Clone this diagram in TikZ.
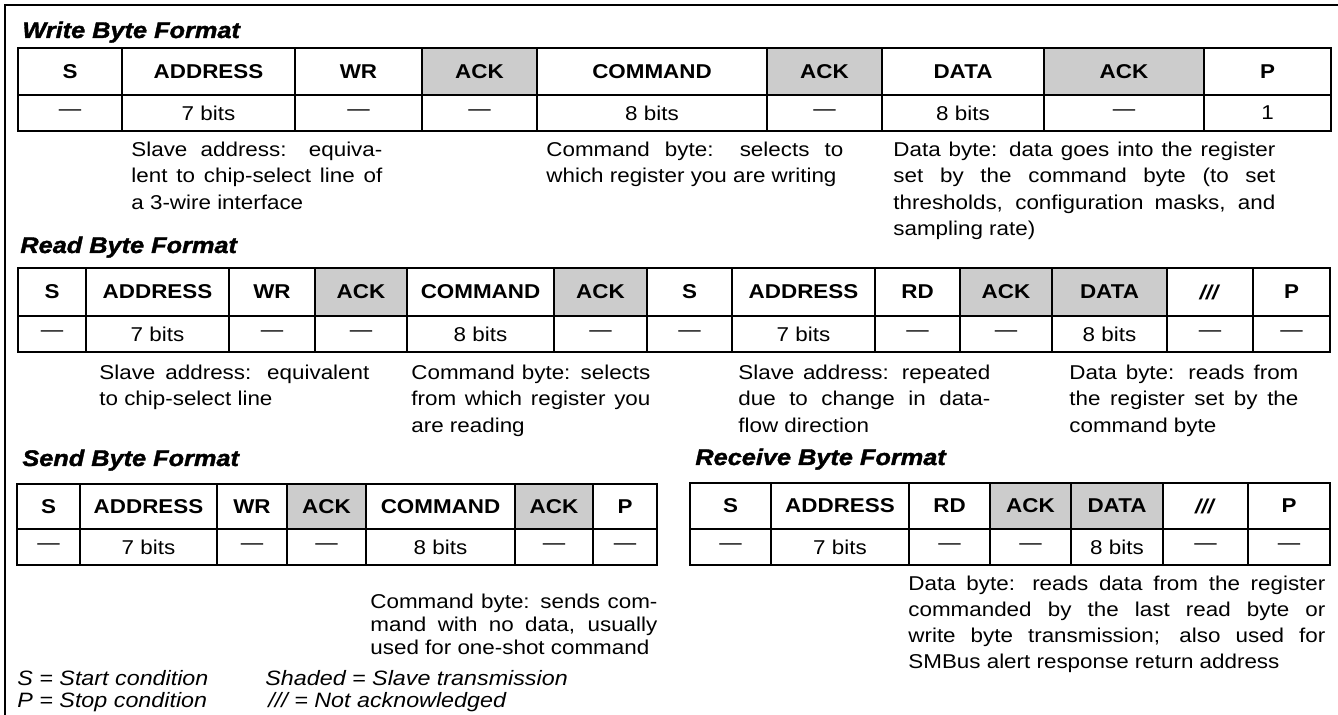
\documentclass[tikz,border=0pt]{standalone}
\usepackage{fontspec}
\setmainfont[FakeStretch=1.12]{Liberation Sans}
\newfontfamily\titlefont[FakeStretch=1.12, FakeBold=1.6]{Liberation Sans}
\definecolor{slavegray}{RGB}{204,204,204}
\newcommand\nackmark{\textit{///}}
\hyphenpenalty=10000
\exhyphenpenalty=10000
\tikzset{
  frame/.style={line width=1.1pt},
  cellline/.style={line width=0.6pt},
  hdr/.style={font=\fontsize{10}{11}\selectfont\bfseries, inner sep=0pt},
  val/.style={font=\fontsize{10}{11}\selectfont, inner sep=0pt},
  fmttitle/.style={font=\titlefont\fontsize{11.3}{12}\selectfont\bfseries\itshape, anchor=base west, inner sep=0pt},
  note/.style={font=\fontsize{10}{13.25}\selectfont, anchor=north west, inner sep=0pt, align=justify, text width=#1},
  legend/.style={font=\fontsize{10.4}{11}\selectfont\itshape, anchor=base west, inner sep=0pt}
}
\begin{document}
\begin{tikzpicture}[x=0.5pt,y=-0.5pt]
\useasboundingbox (0,0) rectangle (1338,715);
\draw[frame] (5,715) -- (5,5) -- (1338,5);

\node[fmttitle] (wtitle) at (22,38) {Write Byte Format};
\foreach \xa/\xb/\hd/\vl/\sh [count=\i] in {18/122/S/\textemdash/white, 122/295/ADDRESS/7 bits/white, 295/422/WR/\textemdash/white, 422/537/ACK/\textemdash/slavegray, 537/767/COMMAND/8 bits/white, 767/882/ACK/\textemdash/slavegray, 882/1044/DATA/8 bits/white, 1044/1204/ACK/\textemdash/slavegray, 1204/1331/P/1/white}{
  \fill[\sh] (\xa,48) rectangle (\xb,95);
  \draw[cellline] (\xa,48) rectangle (\xb,131);
  \node[hdr] (wh\i) at ({(\xa+\xb)/2},71.5) {\hd};
  \node[val] (wv\i) at ({(\xa+\xb)/2},113) {\vl};
}
\draw[cellline] (18,95) -- (1331,95);
\node[note=125.5pt] (waddr) at (131,141.5) {Slave address: equiva-\linebreak lent to chip-select line of\linebreak a 3-wire interface};
\node[note=148.5pt] (wcmd) at (546,141.5) {Command byte: selects to\linebreak which register you are writing};
\node[note=191pt] (wdata) at (893,141.5) {Data byte: data goes into the register\linebreak set by the command byte (to set\linebreak thresholds, configuration masks, and\linebreak sampling rate)};

\node[fmttitle] (rtitle) at (20,253) {Read Byte Format};
\foreach \xa/\xb/\hd/\vl/\sh [count=\i] in {18/86/S/\textemdash/white, 86/229/ADDRESS/7 bits/white, 229/315/WR/\textemdash/white, 315/407/ACK/\textemdash/slavegray, 407/554/COMMAND/8 bits/white, 554/647/ACK/\textemdash/slavegray, 647/732/S/\textemdash/white, 732/875/ADDRESS/7 bits/white, 875/960/RD/\textemdash/white, 960/1052/ACK/\textemdash/slavegray, 1052/1167/DATA/8 bits/slavegray, 1167/1253/\nackmark/\textemdash/white, 1253/1330/P/\textemdash/white}{
  \fill[\sh] (\xa,268) rectangle (\xb,316);
  \draw[cellline] (\xa,268) rectangle (\xb,352);
  \node[hdr] (rh\i) at ({(\xa+\xb)/2},292) {\hd};
  \node[val] (rv\i) at ({(\xa+\xb)/2},334) {\vl};
}
\draw[cellline] (18,316) -- (1330,316);
\node[note=135pt] (raddr) at (99,364.5) {Slave address: equivalent\linebreak to chip-select line};
\node[note=119.5pt] (rcmd) at (411,364.5) {Command byte: selects\linebreak from which register you\linebreak are reading};
\node[note=126pt] (rrep) at (738,364.5) {Slave address: repeated\linebreak due to change in data-\linebreak flow direction};
\node[note=114.5pt] (rdata) at (1069,364.5) {Data byte: reads from\linebreak the register set by the\linebreak command byte};

\node[fmttitle] (stitle) at (22,466) {Send Byte Format};
\foreach \xa/\xb/\hd/\vl/\sh [count=\i] in {17/80/S/\textemdash/white, 80/217/ADDRESS/7 bits/white, 217/287/WR/\textemdash/white, 287/366/ACK/\textemdash/slavegray, 366/515/COMMAND/8 bits/white, 515/593/ACK/\textemdash/slavegray, 593/657/P/\textemdash/white}{
  \fill[\sh] (\xa,484) rectangle (\xb,529);
  \draw[cellline] (\xa,484) rectangle (\xb,565);
  \node[hdr] (sh\i) at ({(\xa+\xb)/2},506.5) {\hd};
  \node[val] (sv\i) at ({(\xa+\xb)/2},547) {\vl};
}
\draw[cellline] (17,529) -- (657,529);
\node[note=143.5pt, font=\fontsize{10}{11.5}\selectfont] (scmd) at (370,594) {Command byte: sends com-\linebreak mand with no data, usually\linebreak used for one-shot command};

\node[fmttitle] (rctitle) at (695,465) {Receive Byte Format};
\foreach \xa/\xb/\hd/\vl/\sh [count=\i] in {690/771/S/\textemdash/white, 771/909/ADDRESS/7 bits/white, 909/990/RD/\textemdash/white, 990/1071/ACK/\textemdash/slavegray, 1071/1163/DATA/8 bits/slavegray, 1163/1248/\nackmark/\textemdash/white, 1248/1330/P/\textemdash/white}{
  \fill[\sh] (\xa,483) rectangle (\xb,529);
  \draw[cellline] (\xa,483) rectangle (\xb,565);
  \node[hdr] (ch\i) at ({(\xa+\xb)/2},506) {\hd};
  \node[val] (cv\i) at ({(\xa+\xb)/2},547) {\vl};
}
\draw[cellline] (690,529) -- (1330,529);
\node[note=208.5pt, font=\fontsize{10}{13}\selectfont] (rcdata) at (908,576) {Data byte: reads data from the register\linebreak commanded by the last read byte or\linebreak write byte transmission; also used for\linebreak SMBus alert response return address};

\node[legend] (lgs) at (17,685) {S = Start condition};
\node[legend] (lgp) at (17,707) {P = Stop condition};
\node[legend] (lgsh) at (265,685) {Shaded = Slave transmission};
\node[legend] (lgna) at (268,707) {/// = Not acknowledged};
\end{tikzpicture}
\end{document}
